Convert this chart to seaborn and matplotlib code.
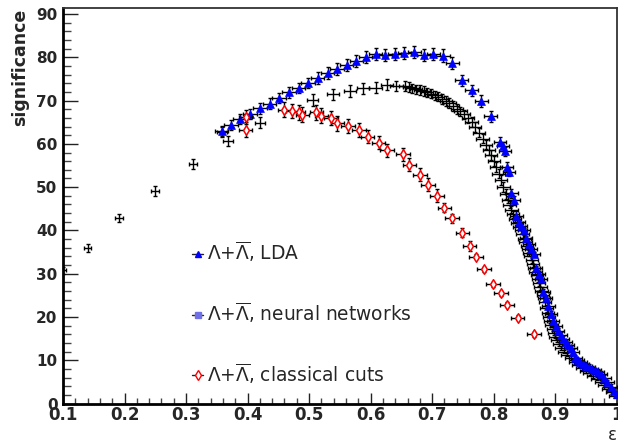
import matplotlib
matplotlib.use("Agg")
import matplotlib.pyplot as plt
from matplotlib.ticker import MultipleLocator, FuncFormatter
from matplotlib.lines import Line2D
import seaborn as sns
import pandas as pd

# ---------------- data ----------------
# neural networks (black crosses)
nn_x = [0.100, 0.140, 0.191, 0.249, 0.311, 0.358, 0.368, 0.420, 0.506, 0.539,
        0.566, 0.588, 0.608, 0.627, 0.642, 0.656,
        0.662, 0.668, 0.674, 0.680, 0.686, 0.692, 0.698, 0.704, 0.710, 0.716,
        0.722, 0.728, 0.734, 0.740, 0.746, 0.752, 0.758, 0.764, 0.770, 0.776,
        0.782, 0.788, 0.792, 0.796, 0.800, 0.804, 0.808, 0.812, 0.816, 0.820,
        0.823, 0.826, 0.829, 0.832, 0.835, 0.838, 0.841, 0.844, 0.847, 0.850,
        0.852, 0.854, 0.856, 0.858, 0.860, 0.862, 0.864, 0.866, 0.868, 0.870,
        0.872, 0.874, 0.876, 0.878, 0.880, 0.882, 0.884, 0.886, 0.888, 0.890,
        0.892, 0.894, 0.896, 0.898, 0.900, 0.903, 0.906, 0.910, 0.915, 0.920,
        0.926, 0.932, 0.938, 0.944, 0.950, 0.956, 0.962, 0.968, 0.974, 0.980,
        0.986, 0.992, 0.997]
nn_y = [30.8, 35.9, 42.9, 49.1, 55.3, 62.8, 60.6, 64.9, 70.1, 71.4,
        72.2, 72.8, 73.0, 73.7, 73.3, 73.4,
        73.1, 72.8, 72.6, 72.4, 72.2, 71.9, 71.6, 71.2, 70.9, 70.4,
        69.9, 69.4, 68.8, 68.1, 67.5, 66.8, 65.9, 65.0, 63.9, 62.6,
        61.2, 59.8, 58.6, 57.4, 56.0, 54.6, 53.1, 51.6, 50.0, 48.4,
        47.1, 45.9, 44.8, 43.7, 42.7, 41.8, 40.9, 40.0, 39.1, 38.1,
        37.3, 36.5, 35.7, 34.8, 34.0, 33.2, 32.3, 31.4, 30.5, 29.7,
        28.8, 27.9, 27.0, 26.1, 25.2, 24.3, 23.4, 22.0, 21.0, 20.0,
        19.0, 18.1, 17.2, 16.3, 15.5, 14.6, 13.8, 12.9, 12.0, 11.3,
        10.5, 9.6, 8.9, 8.2, 7.6, 7.0, 6.4, 5.8, 5.1, 4.3,
        3.5, 2.6, 1.8]
nn_xerr = [0.005, 0.006, 0.0065, 0.0065, 0.007, 0.008, 0.008, 0.008, 0.009, 0.010,
           0.010, 0.010, 0.010, 0.010, 0.010, 0.010] + [0.010] * 83
nn_yerr = [0.8, 0.9, 1.0, 1.1, 1.2, 1.2, 1.2, 1.3, 1.4, 1.3,
           1.3, 1.3, 1.3, 1.3, 1.2, 1.2] + [1.1] * 30 + [0.8] * 30 + [0.4] * 23

# LDA (blue triangles)
lda_x = [0.358, 0.373, 0.388, 0.404, 0.420, 0.436, 0.451, 0.467, 0.483, 0.498,
         0.514, 0.530, 0.545, 0.561, 0.577, 0.592, 0.608, 0.624, 0.639, 0.655,
         0.671, 0.686, 0.702, 0.718, 0.733, 0.748, 0.764, 0.780, 0.795,
         0.810, 0.815, 0.819, 0.821, 0.825, 0.829, 0.833, 0.837, 0.841, 0.845,
         0.849, 0.853, 0.857, 0.861, 0.865, 0.869, 0.873, 0.877, 0.881, 0.885,
         0.889, 0.893, 0.897, 0.901, 0.905, 0.909, 0.913, 0.917, 0.921, 0.925,
         0.929, 0.933, 0.937, 0.941, 0.945, 0.950, 0.955, 0.960, 0.965, 0.970,
         0.975, 0.980, 0.985, 0.990, 0.995, 1.000]
lda_y = [62.9, 64.3, 65.7, 66.9, 68.2, 69.3, 70.6, 71.9, 72.9, 74.1,
         75.2, 76.4, 77.3, 78.3, 79.2, 80.1, 80.7, 80.6, 80.8, 80.9,
         81.3, 80.5, 80.7, 80.4, 78.7, 74.7, 72.4, 69.9, 66.4,
         60.5, 59.4, 58.3, 54.7, 53.6, 48.6, 47.0, 43.4, 42.0, 41.0,
         40.0, 38.2, 36.8, 35.8, 34.5, 31.3, 30.0, 28.8, 25.9, 24.3,
         22.6, 20.8, 19.2, 17.9, 16.8, 15.9, 15.0, 14.2, 13.5, 12.8,
         12.0, 10.6, 10.0, 9.6, 9.2, 8.8, 8.5, 8.1, 7.7, 7.3,
         6.9, 6.0, 4.9, 3.9, 3.0, 2.2]
lda_xerr = [0.011] * 29 + [0.010] * 46
lda_yerr = [1.2] * 10 + [1.4] * 15 + [1.3] * 4 + [1.0] * 10 + [0.6] * 36

# classical cuts (red open diamonds)
cut_x = [0.397, 0.397, 0.460, 0.473, 0.483, 0.489, 0.512, 0.520, 0.536, 0.546,
         0.563, 0.581, 0.595, 0.613, 0.627, 0.653, 0.663, 0.680, 0.693, 0.708,
         0.720, 0.732, 0.749, 0.761, 0.771, 0.784, 0.799, 0.812, 0.822, 0.839,
         0.866]
cut_y = [66.2, 63.3, 67.9, 67.6, 67.3, 66.7, 67.3, 66.5, 66.0, 64.7,
         64.1, 63.2, 61.6, 60.3, 58.5, 57.6, 55.2, 52.9, 50.6, 48.0,
         45.3, 42.8, 39.5, 36.4, 33.9, 31.0, 27.6, 25.5, 22.9, 19.9,
         16.0]
cut_xerr = [0.011] * 31
cut_yerr = [1.7] * 12 + [1.5] * 8 + [1.1] * 4 + [0.6] * 7

labels = [r"$\Lambda$+$\overline{\Lambda}$, LDA",
          r"$\Lambda$+$\overline{\Lambda}$, neural networks",
          r"$\Lambda$+$\overline{\Lambda}$, classical cuts"]
x_ticks = [0.1, 0.2, 0.3, 0.4, 0.5, 0.6, 0.7, 0.8, 0.9, 1.0]
y_ticks = [0, 10, 20, 30, 40, 50, 60, 70, 80, 90]

# ---------------- plotting ----------------
sns.set_style("ticks")
plt.rcParams["font.family"] = ["DejaVu Sans"]
plt.rcParams["mathtext.fontset"] = "dejavusans"

fig = plt.figure(figsize=(6.18, 4.43), dpi=100)
W, H = 618.0, 443.0
ax = fig.add_axes([63 / W, (H - 403.7) / H, (616.7 - 63) / W, (403.7 - 8.3) / H])

df_nn = pd.DataFrame({"x": nn_x, "y": nn_y})
df_lda = pd.DataFrame({"x": lda_x, "y": lda_y})
df_cut = pd.DataFrame({"x": cut_x, "y": cut_y})

ax.errorbar(nn_x, nn_y, xerr=nn_xerr, yerr=nn_yerr, fmt="none", ecolor="black",
            elinewidth=1.0, capsize=1.6, capthick=1.0, zorder=2)
ax.errorbar(lda_x, lda_y, xerr=lda_xerr, yerr=lda_yerr, fmt="none", ecolor="black",
            elinewidth=1.0, capsize=1.6, capthick=1.0, zorder=3)
sns.scatterplot(data=df_lda, x="x", y="y", marker="^", color="#0000ff",
                edgecolor="#0000ff", linewidth=0.5, s=32, ax=ax, zorder=4, legend=False)
ax.errorbar(cut_x, cut_y, xerr=cut_xerr, yerr=cut_yerr, fmt="none", ecolor="black",
            elinewidth=1.0, capsize=1.6, capthick=1.0, zorder=5)
sns.scatterplot(data=df_cut, x="x", y="y", marker="d", color="white",
                edgecolor="#ff0000", linewidth=1.1, s=24, ax=ax, zorder=6, legend=False)

ax.set_xlim(0.1, 1.0)
ax.set_ylim(0, 91.3)
ax.set_xticks(x_ticks)
ax.set_yticks(y_ticks)
ax.xaxis.set_minor_locator(MultipleLocator(0.02))
ax.yaxis.set_minor_locator(MultipleLocator(2))
ax.xaxis.set_major_formatter(FuncFormatter(lambda v, p: f"{v:g}"))
ax.yaxis.set_major_formatter(FuncFormatter(lambda v, p: f"{v:g}"))

ax.tick_params(axis="x", which="major", direction="in", length=8, width=1,
               color="#222222", labelsize=12, pad=2, top=False)
ax.tick_params(axis="x", which="minor", direction="in", length=4.3, width=1,
               color="#444444", top=False)
ax.tick_params(axis="y", which="major", direction="in", length=11, width=1,
               color="#222222", labelsize=11, pad=4, right=False)
ax.tick_params(axis="y", which="minor", direction="in", length=5.8, width=1,
               color="#444444", right=False)
for lab in ax.get_xticklabels() + ax.get_yticklabels():
    lab.set_fontweight("bold")

for side in ["left", "bottom"]:
    ax.spines[side].set_linewidth(2.0)
    ax.spines[side].set_color("black")
for side in ["top", "right"]:
    ax.spines[side].set_linewidth(1.3)
    ax.spines[side].set_color("#333333")
    ax.spines[side].set_visible(True)

ax.set_ylabel("significance", fontsize=12.5, fontweight="bold", loc="top", labelpad=5)
ax.set_xlabel("ε", fontsize=12, loc="right", labelpad=1)

handles = [
    Line2D([], [], color="#222222", lw=1, marker="^", mfc="#0000ff", mec="#0000ff", ms=5),
    Line2D([], [], color="#222222", lw=1, marker="s", mfc="#6f6fe6", mec="#6f6fe6", ms=4),
    Line2D([], [], color="#222222", lw=1, marker="d", mfc="white", mec="#ff0000", ms=5, mew=1),
]
ax.legend(handles, labels, loc="center left", bbox_to_anchor=(0.233, 0.23),
          frameon=False, fontsize=13.4, handlelength=0.6, handletextpad=0.2,
          labelspacing=1.95, borderpad=0, borderaxespad=0)

fig.savefig("out.png", dpi=100)
